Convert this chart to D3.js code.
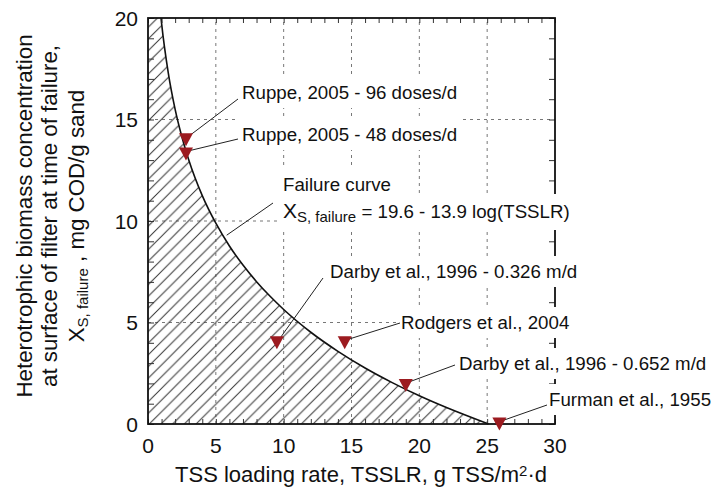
<!DOCTYPE html>
<html>
<head>
<meta charset="utf-8">
<script src="https://cdn.jsdelivr.net/npm/d3@7"></script>
<style>
body { margin: 0; background: #fff; }
svg { display: block; font-family: "Liberation Sans", Arial, sans-serif; }
</style>
</head>
<body>
<svg id="chart" width="716" height="504"></svg>
<script>
// failure curve
const curveX = [0.96, 1, 1.5, 2, 2.5, 3, 4, 5, 6, 7, 8, 9, 10, 12, 14, 16, 18, 20, 22, 24, 25.1];
const curveY = [20, 19.75, 17.27, 15.5, 14.14, 13.02, 11.25, 9.89, 8.77, 7.83, 7.01, 6.29, 5.64, 4.52, 3.58, 2.76, 2.04, 1.39, 0.81, 0.28, 0];

// observed failures
const studyNames = [
    "Ruppe, 2005 - 96 doses/d",
    "Ruppe, 2005 - 48 doses/d",
    "Darby et al., 1996 - 0.326 m/d",
    "Rodgers et al., 2004",
    "Darby et al., 1996 - 0.652 m/d",
    "Furman et al., 1955"
];
const studyTSSLR = [2.8, 2.8, 9.5, 14.5, 19.0, 25.9];
const studyXs = [14.0, 13.3, 4.0, 4.0, 1.9, 0.0];

const xTicks = [0, 5, 10, 15, 20, 25, 30];
const yTicks = [0, 5, 10, 15, 20];

// label placement (pixels) and leader start points
const labelPos = [[242, 99], [242, 141], [330, 278], [401, 329], [459, 370], [549, 406]];
const leaderStart = [[238, 99], [238, 139], [323, 278], [400, 323], [455, 365], [547, 405]];

const svg = d3.select("#chart");
const x = d3.scaleLinear().domain([0, 30]).range([148, 555]);
const y = d3.scaleLinear().domain([0, 20]).range([424, 18]);

const defs = svg.append("defs");
const hs = 11.7;
defs.append("pattern")
    .attr("id", "hatch")
    .attr("patternUnits", "userSpaceOnUse")
    .attr("width", hs)
    .attr("height", hs)
  .append("path")
    .attr("d", `M-1,1L1,-1M0,${hs}L${hs},0M${hs - 1},${hs + 1}L${hs + 1},${hs - 1}`)
    .attr("stroke", "#333")
    .attr("stroke-width", 1);

// grid
const grid = svg.append("g").attr("stroke", "#777").attr("stroke-dasharray", "3,4");
grid.selectAll(".vg").data(xTicks.slice(1, -1)).join("line")
    .attr("x1", d => x(d)).attr("x2", d => x(d))
    .attr("y1", y(0)).attr("y2", y(20));
grid.selectAll(".hg").data(yTicks.slice(1, -1)).join("line")
    .attr("x1", x(0)).attr("x2", x(30))
    .attr("y1", d => y(d)).attr("y2", d => y(d));

// hatched region under failure curve
const pts = curveX.map((v, i) => [v, curveY[i]]);
const line = d3.line().x(d => x(d[0])).y(d => y(d[1])).curve(d3.curveMonotoneX);
const curvePath = line(pts);
svg.append("path")
    .attr("d", `M${x(0)},${y(0)}L${x(0)},${y(20)}` + curvePath.replace(/^M/, "L") + "Z")
    .attr("fill", "url(#hatch)");
svg.append("path")
    .attr("d", curvePath)
    .attr("fill", "none")
    .attr("stroke", "#111")
    .attr("stroke-width", 1.6);

// minor ticks, inside on all sides
const minor = d3.range(0, 31);
const minorY = d3.range(0, 21);
const tickStyle = g => {
    g.select(".domain").remove();
    g.selectAll("line").attr("stroke", "#333");
};
svg.append("g").attr("transform", `translate(0,${y(0)})`)
    .call(d3.axisBottom(x).tickValues(minor).tickSize(-5).tickFormat("")).call(tickStyle);
svg.append("g").attr("transform", `translate(0,${y(20)})`)
    .call(d3.axisTop(x).tickValues(minor).tickSize(-5).tickFormat("")).call(tickStyle);
svg.append("g").attr("transform", `translate(${x(0)},0)`)
    .call(d3.axisLeft(y).tickValues(minorY).tickSize(-6).tickFormat("")).call(tickStyle);
svg.append("g").attr("transform", `translate(${x(30)},0)`)
    .call(d3.axisRight(y).tickValues(minorY).tickSize(-6).tickFormat("")).call(tickStyle);

// frame
svg.append("rect")
    .attr("x", x(0)).attr("y", y(20))
    .attr("width", x(30) - x(0)).attr("height", y(0) - y(20))
    .attr("fill", "none").attr("stroke", "#111").attr("stroke-width", 1.8);

// tick labels
svg.selectAll(".xl").data(xTicks).join("text")
    .attr("x", d => x(d)).attr("y", 453)
    .attr("text-anchor", "middle").attr("font-size", 21).attr("fill", "#111")
    .text(d => d);
svg.selectAll(".yl").data(yTicks).join("text")
    .attr("x", 138).attr("y", d => y(d)).attr("dy", "0.36em")
    .attr("text-anchor", "end").attr("font-size", 21).attr("fill", "#111")
    .text(d => d);

// axis titles
svg.append("text")
    .attr("x", 361).attr("y", 482).attr("text-anchor", "middle")
    .attr("font-size", 22).attr("fill", "#111")
    .call(t => {
        t.append("tspan").text("TSS loading rate, TSSLR, g TSS/m");
        t.append("tspan").attr("font-size", 15).attr("dy", -6).text("2");
        t.append("tspan").attr("dy", 6).text("\u00b7d");
    });

const yTitle = svg.append("g").attr("transform", "translate(0,216) rotate(-90)")
    .attr("font-size", 22.3).attr("fill", "#111").attr("text-anchor", "middle");
yTitle.append("text").attr("y", 32).text("Heterotrophic biomass concentration");
yTitle.append("text").attr("y", 57).text("at surface of filter at time of failure,");
yTitle.append("text").attr("y", 84).call(t => {
    t.append("tspan").text("X");
    t.append("tspan").attr("font-size", 15).attr("dy", 4).text("S, failure");
    t.append("tspan").attr("dy", -4).text(" , mg COD/g sand");
});

// labels with white boxes
const labels = svg.append("g").attr("font-size", 18.7).attr("fill", "#111");
function boxed(build) {
    const g = labels.append("g");
    const bg = g.append("rect").attr("fill", "#fff");
    const t = g.append("text");
    build(t);
    const b = t.node().getBBox();
    bg.attr("x", b.x - 5).attr("y", b.y - 5).attr("width", b.width + 10).attr("height", b.height + 10);
}
studyNames.forEach((name, i) => {
    boxed(t => t.attr("x", labelPos[i][0]).attr("y", labelPos[i][1]).text(name));
});
boxed(t => {
    t.attr("x", 283).attr("y", 191).text("Failure curve");
});
boxed(t => {
    t.attr("x", 283).attr("y", 218);
    t.append("tspan").attr("font-size", 21).text("X");
    t.append("tspan").attr("font-size", 15).attr("dy", 4).text("S, failure");
    t.append("tspan").attr("dy", -4).text(" = 19.6 - 13.9 log(TSSLR)");
});

// leader lines
const leaders = svg.append("g").attr("stroke", "#222").attr("stroke-width", 1);
leaders.selectAll("line").data(studyNames).join("line")
    .attr("x1", (d, i) => leaderStart[i][0]).attr("y1", (d, i) => leaderStart[i][1])
    .attr("x2", (d, i) => x(studyTSSLR[i]) + 2).attr("y2", (d, i) => y(studyXs[i]) - 3);
leaders.append("line")
    .attr("x1", 273).attr("y1", 203)
    .attr("x2", x(5.8)).attr("y2", y(9.3));

// markers
svg.append("g").selectAll("path").data(studyNames).join("path")
    .attr("transform", (d, i) => `translate(${x(studyTSSLR[i])},${y(studyXs[i])})`)
    .attr("d", "M-7,-6.5L7,-6.5L0,6.5Z")
    .attr("fill", "#9c1b20");
</script>
</body>
</html>
